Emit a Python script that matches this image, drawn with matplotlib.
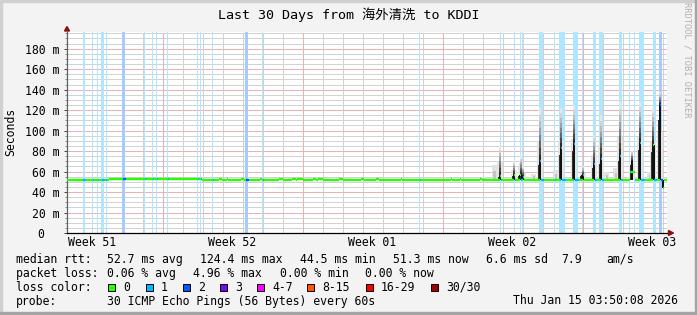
import numpy as np
import matplotlib
matplotlib.use('Agg')
import matplotlib.pyplot as plt
from matplotlib.patches import Rectangle, Polygon

# ---- data (time in days since the left edge of the 30 day window, rtt in ms) ----
base_starts = [0.0, 2.12, 6.76]
base_levels = [51.3, 52.3, 51.3]

bump_starts = [7.59, 8.01, 8.71, 9.64, 10.59, 11.23, 11.51, 12.28, 12.56, 13.58,
               14.68, 15.43, 16.68, 19.18, 19.64, 20.64, 28.13]
bump_ends = [7.76, 8.06, 8.84, 9.76, 10.81, 11.44, 11.81, 12.43, 12.79, 13.81,
             14.84, 15.59, 16.73, 19.23, 19.69, 20.76, 28.38]
bump_levels = [52.3] * 16 + [59.5]

# spikes: median peak (dark core) and top of the smoke
spike_days = [21.68, 22.39, 22.70, 22.80, 23.68, 24.73, 25.38, 25.80, 26.38, 26.71,
              27.68, 28.28, 28.68, 29.34, 29.68, 29.83]
spike_core = [56, 57, 57, 55, 70, 83, 87, 57, 67, 72,
              75, 70, 88, 86, 125, 44.2]
spike_smoke = [85, 70, 75, 65, 122, 122, 125, 65, 96, 115,
               128, 80, 128, 122, 138, 44.2]

# faint smoke without a median excursion
faint_days = [20.9, 21.4, 22.75, 23.35, 24.45, 27.0, 27.45, 29.15]
faint_tops = [55, 66, 68, 58, 62, 60, 63, 60]

# packet loss bars (start, end, lost pings)
loss_starts = [0.80, 1.28, 1.53, 1.73, 1.95, 2.78, 3.88, 4.28, 4.48, 5.03, 6.53, 6.68,
               7.28, 8.93, 9.78, 17.63, 21.68, 22.38, 22.68, 22.78, 23.63, 24.38, 24.63,
               25.30, 25.78, 26.33, 26.63, 27.63, 28.13, 28.38, 28.63, 29.33, 29.63]
loss_ends = [0.93, 1.33, 1.58, 1.88, 2.00, 2.93, 3.93, 4.33, 4.53, 5.08, 6.58, 6.73,
             7.33, 9.08, 9.83, 17.68, 21.73, 22.43, 22.73, 22.83, 23.83, 24.43, 24.93,
             25.58, 25.83, 26.48, 26.83, 27.78, 28.18, 28.43, 28.88, 29.48, 29.78]
loss_counts = [1, 1, 1, 1, 1, 2, 1, 1, 1, 1, 1, 1,
               1, 2, 1, 1, 1, 1, 1, 1, 1, 1, 1,
               1, 1, 1, 1, 1, 1, 1, 1, 1, 2]

loss_names = ['0', '1', '2', '3', '4-7', '8-15', '16-29', '30/30']
loss_colors = ['#26ff00', '#00b8ff', '#0059ff', '#7e00ff', '#ff00ff', '#ff5500', '#ff0000', '#a10000']
loss_bg = {1: '#aee7ff', 2: '#a8cbff'}

week_label_days = [1.3, 8.3, 15.3, 22.3, 29.3]
week_labels = ['Week 51', 'Week 52', 'Week 01', 'Week 02', 'Week 03']
week_line_days = [4.8, 11.8, 18.8, 25.8]
y_ticks = list(range(0, 200, 20))
y_labels = ['0  '] + ['%d m' % v for v in y_ticks[1:]]

stats_rtt = ['median rtt:', '52.7 ms avg', '124.4 ms max', '44.5 ms min', '51.3 ms now',
             '6.6 ms sd', '7.9', 'am/s']
stats_rtt_x = [16, 107.3, 200, 300, 393.3, 486, 561.7, 606.7]
stats_loss = ['packet loss:', '0.06 % avg', '4.96 % max', '0.00 % min', '0.00 % now']
stats_loss_x = [16, 107.3, 193.2, 279.5, 365]
box_x = [108.3, 145.7, 182.7, 220, 257.3, 307.3, 365.7, 431]

# ---- figure ----
W, H = 697, 315
mono = 'DejaVu Sans Mono'
plt.rcParams['font.family'] = [mono, 'Noto Sans CJK SC']
plt.rcParams['font.size'] = 8.3

fig = plt.figure(figsize=(W / 100, H / 100), dpi=100)
fig.patch.set_facecolor('#f3f3f3')


def fx(x):
    return x / W


def fy(y):
    return 1 - y / H


def ftext(x, y, s, **kw):
    fig.text(fx(x), fy(y), s, **kw)


ax = fig.add_axes([fx(66.5), fy(233), 600 / W, 200.7 / H])
ax.set_xlim(0, 30)
ax.set_ylim(0, 196)
ax.set_facecolor('white')

# grid (crisp 1px dots like rrdtool)
grid_kw = dict(lw=0.72, ls=(0, (1, 1)), antialiased=False)
for v in range(5, 200, 5):
    if v % 20:
        ax.axhline(v, color='#d2d2d2', zorder=0.5, **grid_kw)
for v in y_ticks[1:]:
    ax.axhline(v, color='#eeb0b0', zorder=0.6, **grid_kw)
for d in np.arange(0.8, 30, 1.0):
    if min(abs(d - w) for w in week_line_days) > 0.1:
        ax.axvline(d, color='#d2d2d2', zorder=0.5, **grid_kw)
for d in week_line_days:
    ax.axvline(d, color='#eeb0b0', zorder=0.6, **grid_kw)

# loss bars
for s, e, n in zip(loss_starts, loss_ends, loss_counts):
    ax.axvspan(s, e, color=loss_bg[n], lw=0, zorder=1)

# smoke
base = 51.3
for d, top in zip(faint_days, faint_tops):
    ax.bar(d, top - base, bottom=base, width=0.25, color='#e2e2e2', lw=0, zorder=2)
    ax.bar(d, (top - base) * 0.6, bottom=base, width=0.1, color='#c4c4c4', lw=0, zorder=2)

shades = ['#2a2a2a', '#474747', '#666666', '#838383', '#a0a0a0', '#bbbbbb', '#d2d2d2', '#e6e6e6']
for d, core, smoke in zip(spike_days, spike_core, spike_smoke):
    if smoke > core:
        ax.bar(d, (smoke - base) * 0.55, bottom=base, width=0.3, color='#e3e3e3', lw=0, zorder=2)
        edges = np.linspace(core, smoke, len(shades) + 1)
        for k, c in enumerate(shades):
            ax.bar(d, edges[k + 1] - edges[k], bottom=edges[k], width=0.1, color=c, lw=0, zorder=3)
        ax.bar(d - 0.07, (core - base) * 0.8, bottom=base, width=0.07, color='#333333', lw=0, zorder=3)
    ax.bar(d, core - base, bottom=base, width=0.12, color='#111111', lw=0, zorder=3)

# median line coloured by loss, one sample per pixel (no verticals, as in rrdtool)
t = (np.arange(600) + 0.5) / 20
median = np.full(600, base_levels[0])
for s, lvl in zip(base_starts, base_levels):
    median[t >= s] = lvl
for d, c in zip(spike_days, spike_core):
    median[np.argmin(np.abs(t - d))] = c
for s, e, lvl in zip(bump_starts, bump_ends, bump_levels):
    median[(t >= s) & (t < e)] = lvl
loss = np.zeros(600, dtype=int)
for s, e, n in zip(loss_starts, loss_ends, loss_counts):
    loss[(t >= s) & (t < e)] = n
edges_x = np.arange(601) / 20

segs = {0: [], 1: [], 2: []}
run = 0
for i in range(1, 601):
    if i == 600 or loss[i] != loss[run] or median[i] != median[run]:
        segs[loss[run]].append((median[run], edges_x[run], edges_x[i]))
        run = i
for n, rows in segs.items():
    if rows:
        yv, x0, x1 = zip(*rows)
        ax.hlines(yv, x0, x1, color=loss_colors[n], lw=1.7, zorder=5)

# axes
for side in ['top', 'right']:
    ax.spines[side].set_visible(False)
ax.spines['left'].set_color('#606060')
ax.spines['bottom'].set_color('black')
ax.spines['left'].set_linewidth(0.9)
ax.spines['bottom'].set_linewidth(0.9)
ax.set_yticks(y_ticks, y_labels, family=mono, fontsize=8.3)
ax.set_yticks(range(0, 196, 5), minor=True)
ax.tick_params(axis='y', which='major', length=2.2, width=0.7, pad=3.2, color='#404040')
ax.tick_params(axis='y', which='minor', length=1.4, width=0.6, color='#808080')
ax.set_xticks(week_label_days, week_labels, family=mono, fontsize=8.3)
ax.tick_params(axis='x', which='major', length=0, pad=2.5)

# arrows
fig.add_artist(Polygon([(fx(64.5), fy(31)), (fx(69.5), fy(31)), (fx(67), fy(26.5))],
                       closed=True, color='#8b1010', transform=fig.transFigure))
fig.add_artist(Polygon([(fx(668.5), fy(230.5)), (fx(668.5), fy(235.5)), (fx(673.5), fy(233))],
                       closed=True, color='#8b1010', transform=fig.transFigure))

# texts
ftext(348.5, 15, 'Last 30 Days from 海外清洗 to KDDI', ha='center', va='center', fontsize=9.6)
ftext(11, 132, 'Seconds', rotation=90, ha='center', va='center', family=mono)
ftext(687.5, 60, 'RRDTOOL / TOBI OETIKER', rotation=270, ha='center', va='center',
      family=mono, fontsize=6.3, color='#b0b0b0')

for s, x in zip(stats_rtt, stats_rtt_x):
    ftext(x, 259.3, s, ha='left', va='center', family=mono)
for s, x in zip(stats_loss, stats_loss_x):
    ftext(x, 273.3, s, ha='left', va='center', family=mono)
ftext(16, 287.3, 'loss color:', ha='left', va='center', family=mono)
for name, col, x in zip(loss_names, loss_colors, box_x):
    fig.add_artist(Rectangle((fx(x), fy(290.8)), 7 / W, 7 / H, facecolor=col,
                             edgecolor='black', lw=0.7, transform=fig.transFigure))
    ftext(x + 15, 287.3, name, ha='left', va='center', family=mono)
ftext(16, 301, 'probe:', ha='left', va='center', family=mono)
ftext(107.3, 301, '30 ICMP Echo Pings (56 Bytes) every 60s', ha='left', va='center', family=mono)
ftext(513.3, 301, 'Thu Jan 15 03:50:08 2026', ha='left', va='center', family=mono)

# 3d-ish frame
fig.add_artist(Rectangle((0, 0), fx(2), 1, color='#d0d0d0', transform=fig.transFigure))
fig.add_artist(Rectangle((0, fy(2)), 1, 2 / H, color='#d0d0d0', transform=fig.transFigure))
fig.add_artist(Rectangle((fx(695), 0), 2 / W, 1, color='#a4a4a4', transform=fig.transFigure))
fig.add_artist(Rectangle((0, 0), 1, 3 / H, color='#a4a4a4', transform=fig.transFigure))

fig.savefig('out.png', dpi=100, facecolor=fig.get_facecolor())
